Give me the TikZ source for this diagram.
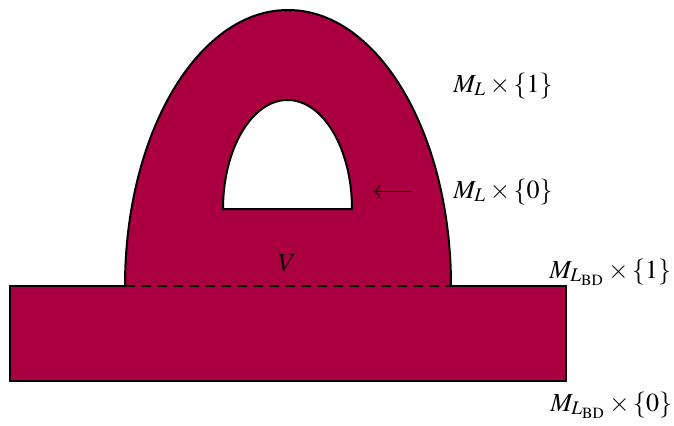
\documentclass[tikz,border=0pt]{standalone}
\usepackage{mathptmx}
\usepackage{fontspec}
\setmainfont{Liberation Serif}
\definecolor{handle}{RGB}{170,0,66}

\begin{document}
\begin{tikzpicture}[
    x=0.5pt, y=0.5pt,
    region/.style={fill=handle, draw=none},
    edge/.style={black, line width=1pt},
    cut/.style={black, line width=1pt, dash pattern=on 5pt off 3pt},
    level/.style={font=\fontsize{13}{15}\selectfont, anchor=base west, inner sep=0pt},
]
\useasboundingbox (0,0) rectangle (674,425);

% ── Base slab M_{L_BD} x [0,1] ──
\fill[region] (10,44) rectangle (566,139);

% ── Handle with hole ──
\fill[region, even odd rule] (125,139) arc[start angle=180, end angle=0, x radius=163, y radius=276] -- cycle
    (223,216) arc[start angle=180, end angle=0, x radius=64.5, y radius=109] -- cycle;

% ── Outlines ──
\draw[edge] (125,139) -- (10,139) -- (10,44) -- (566,44) -- (566,139) -- (451,139);
\draw[edge] (125,139) arc[start angle=180, end angle=0, x radius=163, y radius=276];
\draw[edge] (223,216) arc[start angle=180, end angle=0, x radius=64.5, y radius=109] -- cycle;
\draw[cut] (125,139) -- (451,139);

% ── Labels ──
\node[level] (top1) at (453,333) {$M_L\times\{1\}$};
\node[level] (top0) at (453,227) {$M_L\times\{0\}$};
\node[level, anchor=base] (arrow) at (393,227) {$\longleftarrow$};
\node[level, anchor=center] (vee) at (287,162) {$V$};
\node[level] (bd1) at (549,147) {$M_{L_{\mathrm{BD}}}\times\{1\}$};
\node[level] (bd0) at (550,14) {$M_{L_{\mathrm{BD}}}\times\{0\}$};

\end{tikzpicture}
\end{document}
